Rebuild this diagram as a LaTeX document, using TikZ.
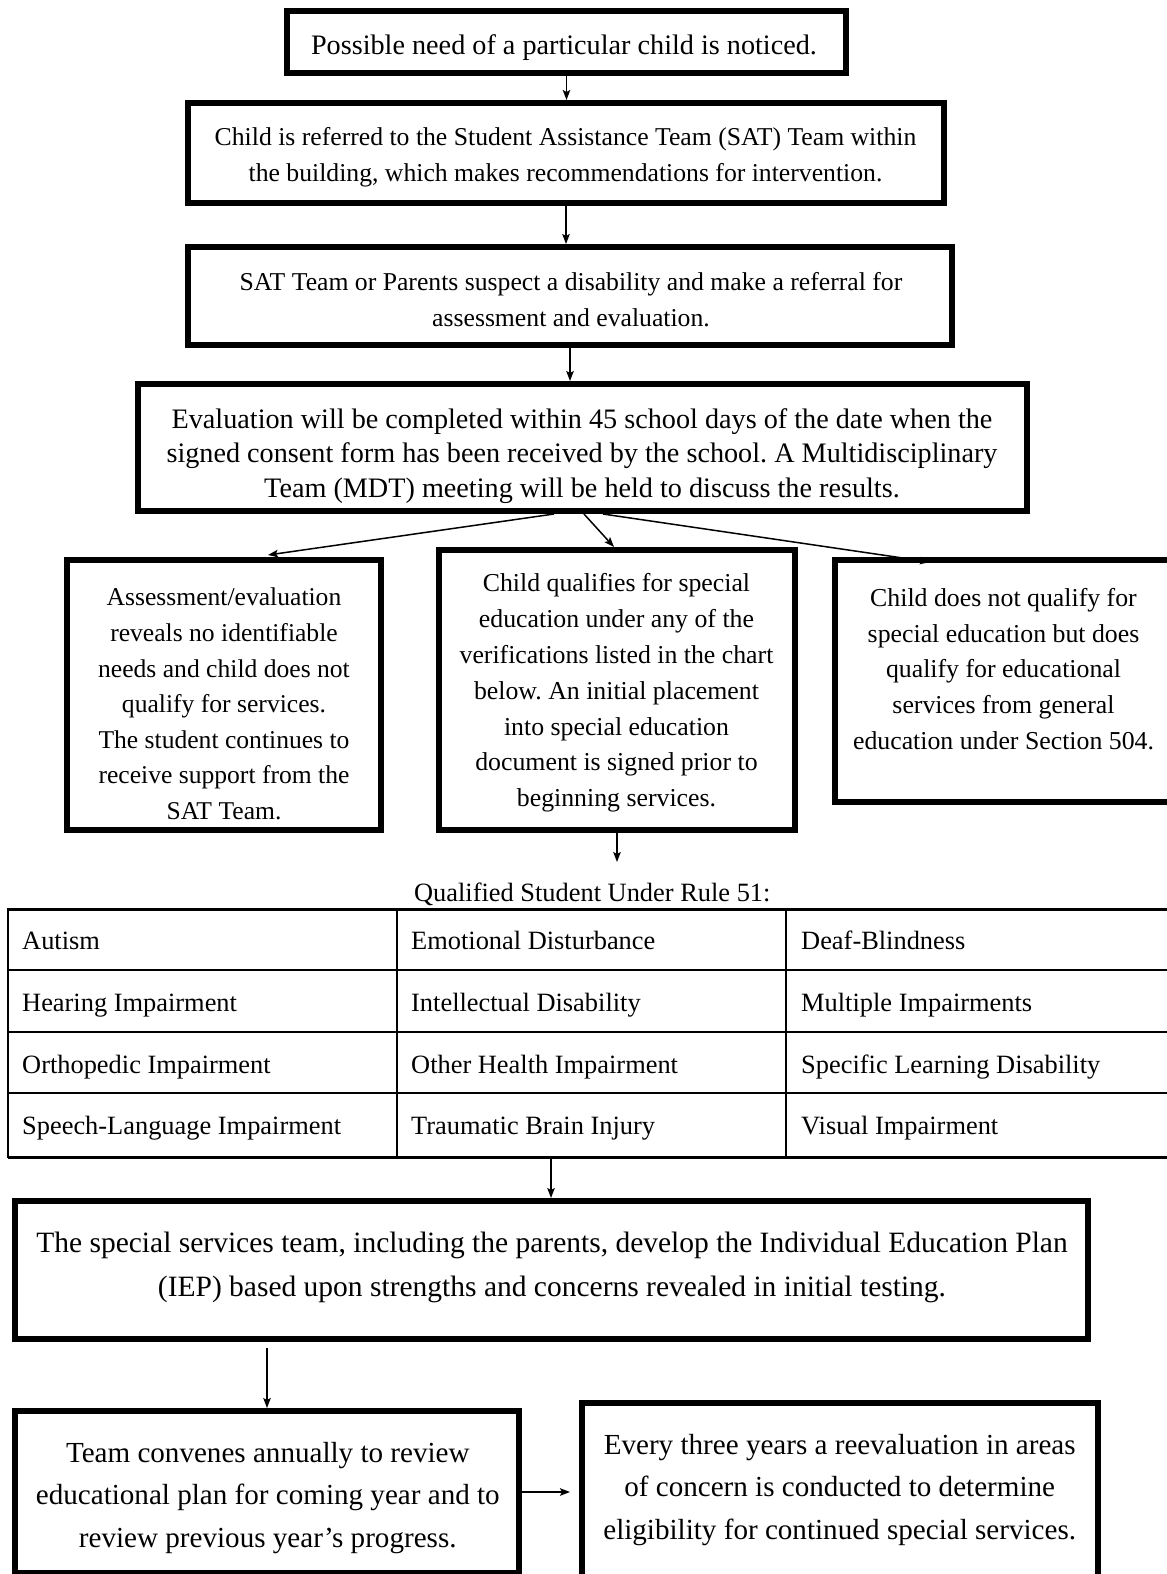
\documentclass[tikz,border=0pt]{standalone}
\usepackage{fontspec}
\setmainfont{Liberation Serif}
\usetikzlibrary{arrows.meta,calc,backgrounds}
\frenchspacing
\begin{document}
\begin{tikzpicture}[x=1pt,y=-1pt,
  box/.style={draw, line width=6pt, inner sep=0pt},
  txt/.style={align=center, inner sep=0pt},
  cell/.style={anchor=base west, inner sep=0pt, font=\fontsize{26.4}{30}\selectfont},
  arr/.style={line width=1.5pt, -{Stealth[length=10pt,width=7.5pt,inset=2pt]}},
  thick rule/.style={line width=3pt},
  thin rule/.style={line width=2pt},
  ]
\useasboundingbox (0,0) rectangle (1167,1574);

% boxes
\node[box, minimum width=559pt, minimum height=62pt] (b1) at (566.5,42) {};
\node[box, minimum width=756pt, minimum height=100pt] (b2) at (566,153) {};
\node[box, minimum width=764pt, minimum height=98pt] (b3) at (570,296) {};
\node[box, minimum width=889pt, minimum height=127pt] (b4) at (582.5,447.5) {};
\node[box, minimum width=314pt, minimum height=270pt] (b5) at (224,695) {};
\node[box, minimum width=356pt, minimum height=280pt] (b6) at (617,690) {};
\node[box, minimum width=350pt, minimum height=242pt] (b7) at (1010,681) {};
\node[box, minimum width=1073pt, minimum height=138pt] (iep) at (551.5,1270) {};
\node[box, minimum width=504pt, minimum height=162pt] (bl) at (267,1492) {};
\node[box, minimum width=516pt, minimum height=187pt] (br) at (840,1496.5) {};

% texts
\node[txt, font=\fontsize{28.2}{34}\selectfont] (t1) at (564,48) {Possible need of a particular child is noticed.};
\node[txt, font=\fontsize{25.7}{35.5}\selectfont] (t2) at (565.5,157) {Child is referred to the Student Assistance Team (SAT) Team within\\the building, which makes recommendations for intervention.};
\node[txt, font=\fontsize{25.7}{35.5}\selectfont] (t3) at (571,299.5) {SAT Team or Parents suspect a disability and make a referral for\\assessment and evaluation.};
\node[txt, font=\fontsize{28.2}{34.2}\selectfont] (t4) at (582,456) {Evaluation will be completed within 45 school days of the date when the\\signed consent form has been received by the school. A Multidisciplinary\\Team (MDT) meeting will be held to discuss the results.};
\node[txt, font=\fontsize{25.6}{35.6}\selectfont] (t5) at (224,704) {Assessment/evaluation\\reveals no identifiable\\needs and child does not\\qualify for services.\\The student continues to\\receive support from the\\SAT Team.};
\node[txt, font=\fontsize{25.8}{35.8}\selectfont] (t6) at (616.5,693) {Child qualifies for special\\education under any of the\\verifications listed in the chart\\below. An initial placement\\into special education\\document is signed prior to\\beginning services.};
\node[txt, font=\fontsize{25.8}{35.8}\selectfont] (t7) at (1003.5,669) {Child does not qualify for\\special education but does\\qualify for educational\\services from general\\education under Section 504.};
\node[txt, font=\fontsize{29.5}{44}\selectfont] (tiep) at (552,1267) {The special services team, including the parents, develop the Individual Education Plan\\(IEP) based upon strengths and concerns revealed in initial testing.};
\node[txt, font=\fontsize{29.1}{42.5}\selectfont] (tbl) at (267.8,1498) {Team convenes annually to review\\educational plan for coming year and to\\review previous year’s progress.};
\node[txt, font=\fontsize{29.1}{42.5}\selectfont] (tbr) at (839.7,1490) {Every three years a reevaluation in areas\\of concern is conducted to determine\\eligibility for continued special services.};

% table
\node[anchor=base, inner sep=0pt, font=\fontsize{26.4}{30}\selectfont] (title) at (592.3,901) {Qualified Student Under Rule 51:};
\draw[thick rule] (7.5,909) -- (1175,909);
\draw[thin rule] (7.5,970) -- (1175,970);
\draw[thin rule] (7.5,1032) -- (1175,1032);
\draw[thin rule] (7.5,1093) -- (1175,1093);
\draw[thick rule] (7.5,1157) -- (1175,1157);
\draw[thin rule] (7.5,908) -- (7.5,1158);
\draw[thin rule] (397,909) -- (397,1157);
\draw[thin rule] (786,909) -- (786,1157);

\node[cell] (c11) at (22,949.5) {Autism};
\node[cell] (c12) at (411,949.5) {Emotional Disturbance};
\node[cell] (c13) at (801,949.5) {Deaf-Blindness};
\node[cell] (c21) at (22,1011.3) {Hearing Impairment};
\node[cell] (c22) at (411,1011.3) {Intellectual Disability};
\node[cell] (c23) at (801,1011.3) {Multiple Impairments};
\node[cell] (c31) at (22,1073) {Orthopedic Impairment};
\node[cell] (c32) at (411,1073) {Other Health Impairment};
\node[cell] (c33) at (801,1073) {Specific Learning Disability};
\node[cell] (c41) at (22,1134.7) {Speech-Language Impairment};
\node[cell] (c42) at (411,1134.7) {Traumatic Brain Injury};
\node[cell] (c43) at (801,1134.7) {Visual Impairment};

\coordinate (qa) at (617,862);
\coordinate (tb) at (551,1157);

% connectors
\draw[arr] (b1.south) -- (b1.south |- b2.north);
\draw[arr] (b2.south) -- (b2.south |- b3.north);
\draw[arr] (b3.south) -- (b3.south |- b4.north);
\draw[arr] ($(b4.south)+(-28.5,0)$) -- ($(b5.north)+(44,-2)$);
\draw[arr] ($(b4.south)+(1.5,0)$) -- ($(b6.north)+(-3,0)$);
\begin{pgfonlayer}{background}
\fill[white] (0,0) rectangle (1167,1574);
\draw[arr] ($(b4.south)+(20.5,0)$) -- ($(b7.north)+(-80,5)$);
\end{pgfonlayer}
\draw[arr] (b6.south) -- (qa);
\draw[arr] (tb) -- (tb |- iep.north);
\draw[arr] ($(iep.south -| bl.north)+(0,6)$) -- (bl.north);
\draw[arr, shorten >=9pt] (bl.east) -- (bl.east -| br.west);
\end{tikzpicture}
\end{document}
